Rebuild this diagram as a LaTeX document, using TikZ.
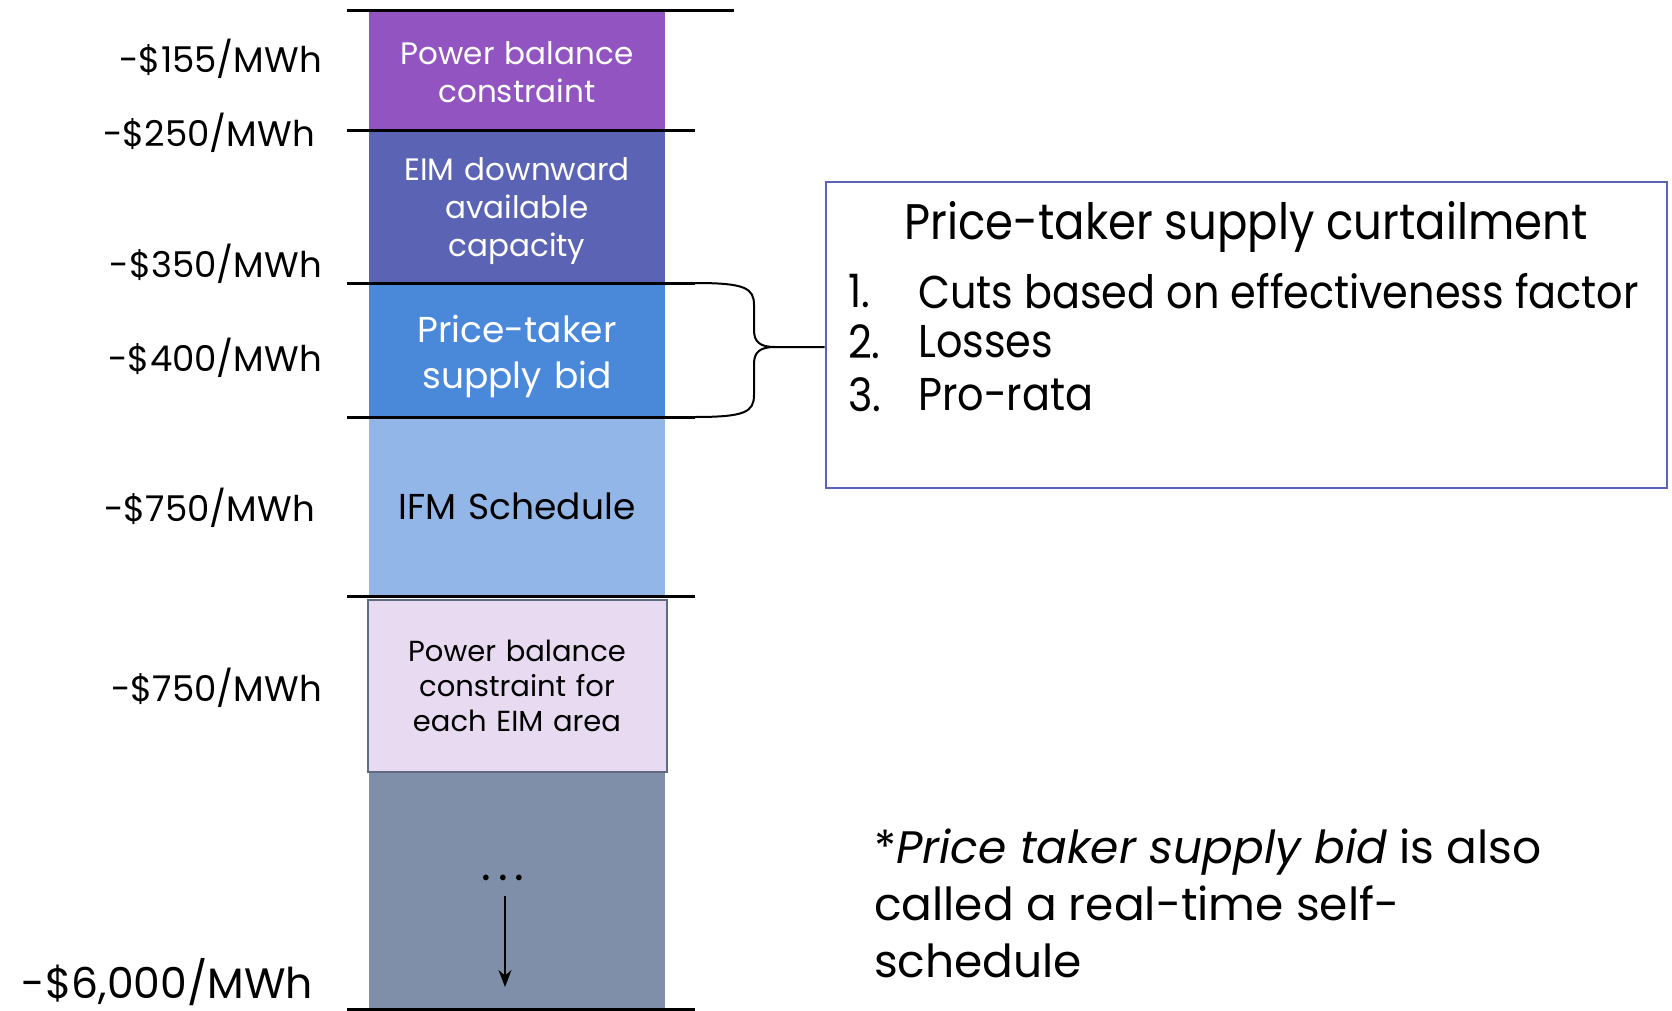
\documentclass[tikz,border=0pt]{standalone}
\usepackage{fontspec}
\setmainfont{Poppins}
\usetikzlibrary{positioning, arrows.meta}

\newcommand{\fsz}[2]{\fontsize{#1}{#2}\selectfont}

\definecolor{pbcpurple}{HTML}{9254C1}
\definecolor{eimblue}{HTML}{5B63B5}
\definecolor{ptblue}{HTML}{4A88DA}
\definecolor{ifmblue}{HTML}{93B6E8}
\definecolor{pinkfill}{HTML}{E8DBF1}
\definecolor{pinkline}{HTML}{5F6B80}
\definecolor{grayfill}{HTML}{7F8FA9}
\definecolor{boxline}{HTML}{5A63B8}

\tikzstyle{band} = [rectangle, minimum width=296pt, inner sep=0pt, outer sep=0pt, text width=290pt, align=center]
\tikzstyle{price} = [anchor=east, inner sep=0pt, font=\fsz{35.5}{42}]
\tikzstyle{rule} = [line width=3pt, black]
\tikzstyle{curly} = [line width=2pt, black]
\tikzstyle{arrow} = [line width=2pt, -{Stealth[length=17pt, width=13pt]}]
\tikzstyle{item} = [anchor=west, inner sep=0pt, font=\fsz{46}{52}, xscale=0.9]

\begin{document}
\begin{tikzpicture}[x=1pt, y=-1pt]
	\useasboundingbox (0,0) rectangle (1672,1011);

	% the price column (text depth nudges the labels down a little)
	\node (pbc) [band, fill=pbcpurple, minimum height=120pt, text=white, font=\fsz{31}{38}, text depth=35pt, anchor=north] at (517,11) {Power balance\\constraint};
	\node (eim) [band, fill=eimblue, minimum height=152pt, text=white, font=\fsz{31}{38}, text depth=76pt, below=0pt of pbc] {EIM downward\\available\\capacity};
	\node (ptsb) [band, fill=ptblue, minimum height=134pt, text=white, font=\fsz{36}{46}, text depth=42pt, below=0pt of eim] {Price-taker\\supply bid};
	\node (ifm) [band, fill=ifmblue, minimum height=179pt, font=\fsz{36}{45}, below=0pt of ptsb] {IFM Schedule};
	\node (pbeim) [band, fill=pinkfill, draw=pinkline, line width=2pt, minimum width=299pt, minimum height=172pt, font=\fsz{29}{35}, below=4pt of ifm] {Power balance\\constraint for\\each EIM area};
	\node (rest) [band, fill=grayfill, minimum height=236pt, below=1pt of pbeim] {};

	\node (dots) [font=\fsz{46}{50}] at (503,878) {.\hspace{7pt}.\hspace{7pt}.};
	\coordinate (arrowend) at (505,987);
	\draw[arrow, shorten <=12pt] (dots.south -| arrowend) -- (arrowend);

	% separators
	\draw[rule] ([xshift=-22pt]pbc.north west) -- ([xshift=69pt]pbc.north east);
	\draw[rule] ([xshift=-22pt]eim.north west) -- ([xshift=30pt]eim.north east);
	\draw[rule] ([xshift=-22pt]ptsb.north west) -- ([xshift=30pt]ptsb.north east);
	\draw[rule] ([xshift=-22pt]ifm.north west) -- ([xshift=30pt]ifm.north east);
	\draw[rule] ([xshift=-22pt]ifm.south west) -- ([xshift=30pt]ifm.south east);
	\draw[rule] ([xshift=-22pt]rest.south west) -- ([xshift=30pt]rest.south east);

	% prices
	\node (p155) [price] at (322,59) {-\$155/MWh};
	\node (p250) [price] at (315,133) {-\$250/MWh};
	\node (p350) [price] at (322,264) {-\$350/MWh};
	\node (p400) [price] at (322,358) {-\$400/MWh};
	\node (p750a) [price] at (315,508) {-\$750/MWh};
	\node (p750b) [price] at (322,688) {-\$750/MWh};
	\node (p6000) [price, font=\fsz{42.5}{50}] at (313,982) {-\$6,000/MWh};

	% curtailment box
	\node (curtail) [draw=boxline, line width=2pt, minimum width=841pt, minimum height=305pt, inner sep=0pt] at (1246,335) {};
	\node (head) [inner sep=0pt, font=\fsz{50}{58}, xscale=0.9] at (1246,227) {Price-taker supply curtailment};
	\node (n1) [item] at (848,291) {1.};
	\node (n2) [item] at (848,342) {2.};
	\node (n3) [item] at (848,395) {3.};
	\node (cuts) [item] at (918,291) {Cuts based on effectiveness factor};
	\node (losses) [item] at (918,342) {Losses};
	\node (prorata) [item] at (918,395) {Pro-rata};

	% brace
	\draw[curly] ([xshift=30pt]ptsb.north east) .. controls (745,283) and (754,288) .. (754,305) -- (754,330) .. controls (754,342) and (760,347) .. (775,347) -- ([yshift=-12pt]curtail.west);
	\draw[curly] ([xshift=30pt]ptsb.south east) .. controls (745,417) and (754,412) .. (754,395) -- (754,364) .. controls (754,352) and (760,347) .. (775,347);

	\node (note) [anchor=west, inner sep=0pt, align=left, font=\fsz{45.5}{57}] at (874,903) {*\textit{Price taker supply bid} is also\\called a real-time self-\\schedule};
\end{tikzpicture}
\end{document}
